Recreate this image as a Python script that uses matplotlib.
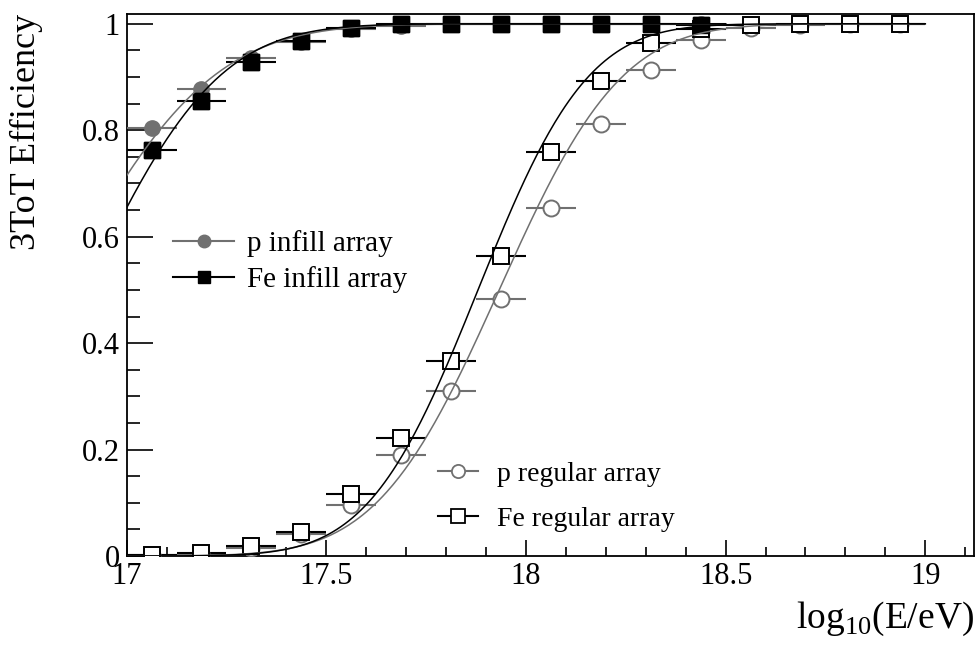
import math
import numpy as np
import matplotlib
matplotlib.use("Agg")
import matplotlib.pyplot as plt
from matplotlib.lines import Line2D

plt.rcParams['font.family'] = ['Liberation Serif', 'DejaVu Serif']
plt.rcParams['mathtext.fontset'] = 'custom'
plt.rcParams['mathtext.rm'] = 'Liberation Serif'

# bin centres in log10(E/eV), half bin width 0.0625
e_bins = [17.0625, 17.1875, 17.3125, 17.4375, 17.5625, 17.6875, 17.8125, 17.9375,
          18.0625, 18.1875, 18.3125, 18.4375, 18.5625, 18.6875, 18.8125, 18.9375]
half_bin = 0.0625

# infill array (first 12 bins)
p_infill = [0.805, 0.878, 0.935, 0.966, 0.990, 0.996, 1.0, 1.0, 1.0, 1.0, 1.0, 1.0]
fe_infill = [0.763, 0.854, 0.929, 0.967, 0.992, 1.0, 1.0, 1.0, 1.0, 1.0, 1.0, 0.997]

# regular array (all 16 bins)
p_regular = [0.001, 0.003, 0.016, 0.041, 0.095, 0.190, 0.310, 0.483,
             0.653, 0.811, 0.913, 0.969, 0.992, 0.998, 1.0, 1.0]
fe_regular = [0.002, 0.005, 0.018, 0.045, 0.117, 0.221, 0.367, 0.563,
              0.760, 0.892, 0.964, 0.990, 0.998, 1.0, 1.0, 1.0]

# erf fits: (mean, sigma, x range)
fit_p_infill = (16.83, 0.30, 17.0, 18.5)
fit_fe_infill = (16.897, 0.26, 17.0, 18.5)
fit_p_regular = (17.933, 0.24, 17.0, 19.0)
fit_fe_regular = (17.880, 0.215, 17.0, 19.0)

gray = '#707070'


def erf_curve(par):
    mu, sig, lo, hi = par
    xx = np.linspace(lo, hi, 400)
    yy = np.array([0.5 * (1 + math.erf((v - mu) / (sig * math.sqrt(2)))) for v in xx])
    return xx, yy


fig = plt.figure(figsize=(9.79, 6.54), dpi=100)
ax = fig.add_axes([0.1293, 0.1498, 0.8656, 0.8293])

n_inf = len(p_infill)
ax.errorbar(e_bins[:n_inf], p_infill, xerr=half_bin, fmt='o', color=gray, ms=11,
            elinewidth=1.5, capsize=0, zorder=3)
ax.errorbar(e_bins[:n_inf], fe_infill, xerr=half_bin, fmt='s', color='black', ms=11,
            elinewidth=1.5, capsize=0, zorder=3)
ax.errorbar(e_bins, p_regular, xerr=half_bin, fmt='o', color=gray, mfc='white', mec=gray,
            mew=1.4, ms=11.5, elinewidth=1.5, capsize=0, zorder=3)
ax.errorbar(e_bins, fe_regular, xerr=half_bin, fmt='s', color='black', mfc='white', mec='black',
            mew=1.4, ms=11.5, elinewidth=1.5, capsize=0, zorder=3)
# redraw infill markers on top
ax.plot(e_bins[:n_inf], fe_infill, 's', color='black', ms=11, zorder=4)

for par, col in [(fit_p_infill, gray), (fit_fe_infill, 'black'),
                 (fit_p_regular, gray), (fit_fe_regular, 'black')]:
    xx, yy = erf_curve(par)
    ax.plot(xx, yy, color=col, lw=1.1, zorder=5)

ax.set_xlim(17.0, 19.122)
ax.set_ylim(0, 1.019)
ax.set_xticks([17, 17.5, 18, 18.5, 19])
ax.set_xticklabels(['17', '17.5', '18', '18.5', '19'])
ax.set_xticks(np.arange(17.1, 19.12, 0.1), minor=True)
ax.set_yticks([0, 0.2, 0.4, 0.6, 0.8, 1.0])
ax.set_yticklabels(['0', '0.2', '0.4', '0.6', '0.8', '1'])
ax.set_yticks(np.arange(0.05, 1.0, 0.05), minor=True)

ax.tick_params(axis='both', which='both', direction='in', top=False, right=False,
               labelsize=22, width=1.2)
ax.tick_params(axis='y', which='major', length=19, pad=5)
ax.tick_params(axis='y', which='minor', length=9.5)
ax.tick_params(axis='x', which='major', length=11.5, pad=4)
ax.tick_params(axis='x', which='minor', length=6.5)
for s in ax.spines.values():
    s.set_linewidth(1.3)

ax.set_ylabel('3ToT Efficiency', fontsize=26, loc='top')
ax.yaxis.set_label_coords(-0.099, 1.0)
ax.set_xlabel(r'$\mathrm{log}_{10}\mathrm{(E/eV)}$', fontsize=27, loc='right', va='top')
ax.xaxis.set_label_coords(1.0, -0.08)

h1 = [Line2D([], [], color=gray, marker='o', ms=9, lw=1.5),
      Line2D([], [], color='black', marker='s', ms=9, lw=1.5)]
leg1 = ax.legend(h1, ['p infill array', 'Fe infill array'], loc='center left',
                 bbox_to_anchor=(0.0548, 0.543), frameon=False, fontsize=21,
                 handlelength=2.1, handletextpad=0.45, labelspacing=0.3,
                 borderpad=0, borderaxespad=0, numpoints=1)
ax.add_artist(leg1)
h2 = [Line2D([], [], color=gray, marker='o', mfc='white', mec=gray, mew=1.3, ms=9.5, lw=1.5),
      Line2D([], [], color='black', marker='s', mfc='white', mec='black', mew=1.3, ms=9.5, lw=1.5)]
ax.legend(h2, ['p regular array', 'Fe regular array'], loc='center left',
          bbox_to_anchor=(0.3675, 0.109), frameon=False, fontsize=20,
          handlelength=1.45, handletextpad=0.68, labelspacing=0.7,
          borderpad=0, borderaxespad=0, numpoints=1)

fig.savefig('out.png', dpi=100)
